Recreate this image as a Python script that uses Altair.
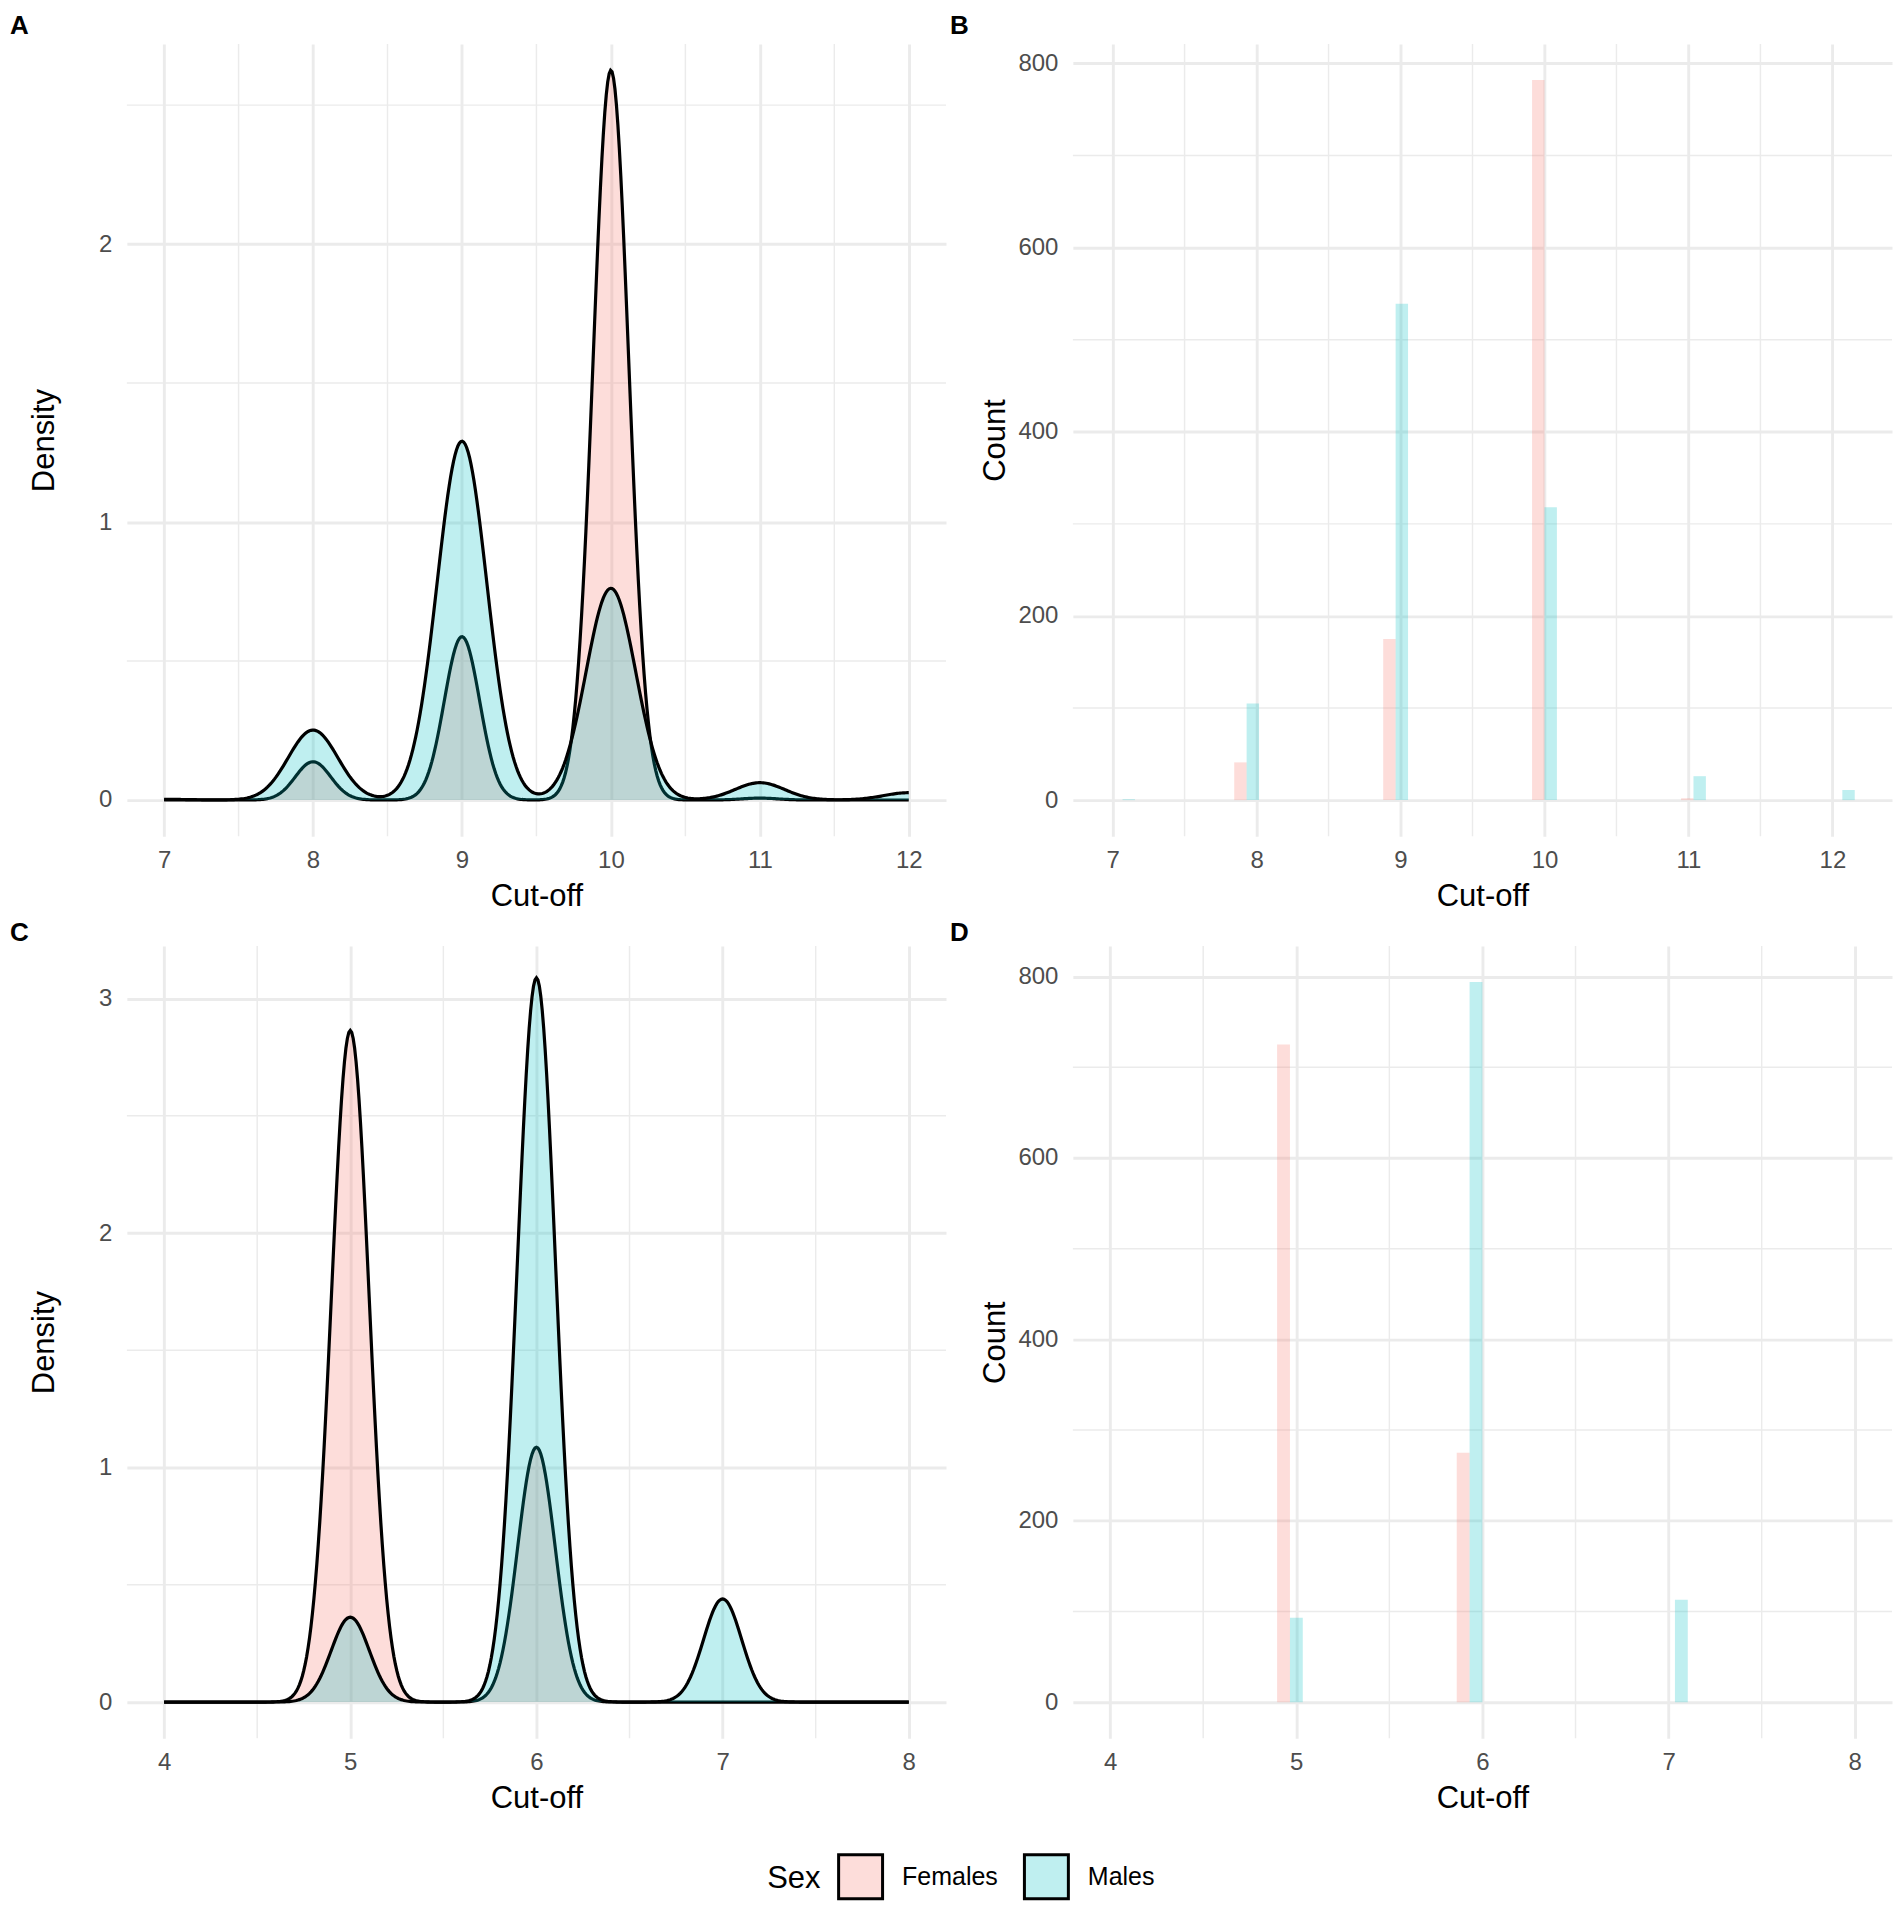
import altair as alt
import numpy as np
import pandas as pd

alt.data_transformers.disable_max_rows()

# ---------------- data ----------------
SEX = ["Females", "Males"]
SEX_FILL = ["rgba(248,118,109,0.25)", "rgba(0,191,196,0.25)"]

# Panels A (density) and B (histogram)
AB_CUTOFF = [7, 8, 9, 10, 11, 12]
AB_FEMALES = [0, 41, 175, 782, 2, 0]
AB_MALES = [1, 105, 539, 318, 26, 11]
AB_BIN_MID = [7.069, 7.931, 8.966, 10.0, 11.035, 12.069]
AB_BIN_WIDTH = 0.1724

# Panels C (density) and D (histogram)
CD_CUTOFF = [5, 6, 7]
CD_FEMALES = [725, 275, 0]
CD_MALES = [93, 794, 113]
CD_BIN_MID = [4.966, 5.931, 7.034]
CD_BIN_WIDTH = 0.1379

# axis ticks
AB_XTICKS = [7, 8, 9, 10, 11, 12]
AB_XMINOR = [7.5, 8.5, 9.5, 10.5, 11.5]
CD_XTICKS = [4, 5, 6, 7, 8]
CD_XMINOR = [4.5, 5.5, 6.5, 7.5]
A_YTICKS = [0, 1, 2]
A_YMINOR = [0.5, 1.5, 2.5]
C_YTICKS = [0, 1, 2, 3]
C_YMINOR = [0.5, 1.5, 2.5]
COUNT_YTICKS = [0, 200, 400, 600, 800]
COUNT_YMINOR = [100, 300, 500, 700]

FONT = "Liberation Sans"
GRID = "#EBEBEB"
W, H = 820, 793


def observations(cutoffs, females, males):
    return pd.DataFrame({
        "Sex": np.repeat(SEX, [sum(females), sum(males)]),
        "value": np.concatenate([np.repeat(cutoffs, females),
                                 np.repeat(cutoffs, males)]).astype(float),
    })


def bins(mids, females, males):
    return pd.DataFrame({
        "Sex": [SEX[0]] * len(mids) + [SEX[1]] * len(mids),
        "mid": list(mids) * 2,
        "count": list(females) + list(males),
    })


def bw_nrd0(x):
    x = np.asarray(x, float)
    hi = x.std(ddof=1)
    q75, q25 = np.percentile(x, [75, 25])
    lo = min(hi, (q75 - q25) / 1.34)
    if lo <= 0:
        lo = hi
    return 0.9 * lo * len(x) ** -0.2


CSCALE = alt.Scale(domain=SEX, range=SEX_FILL)
LEGEND = alt.Legend(
    title="Sex", orient="none", legendX=641, legendY=1811,
    direction="horizontal", titleOrient="left", titleAnchor="middle",
    titleBaseline="middle",
    titleFontSize=31, titleFontWeight="normal", titleColor="black",
    titleFont=FONT, titlePadding=16,
    labelFontSize=25, labelColor="black", labelFont=FONT, labelOffset=18,
    columnPadding=20, symbolType="square", symbolSize=1936,
    symbolStrokeColor="black", symbolStrokeWidth=3, padding=0,
)


def axis_x(ticks):
    return alt.Axis(values=ticks, title="Cut-off", grid=True, gridColor=GRID,
                    gridWidth=2.9, domain=False, ticks=False, labelPadding=12,
                    labelFontSize=24, labelColor="#4D4D4D", labelFont=FONT,
                    titleFontSize=31, titleFontWeight="normal",
                    titleColor="black", titleFont=FONT, titlePadding=9,
                    format="d", labelOverlap=False)


def axis_y(ticks, title, pad):
    return alt.Axis(values=ticks, title=title, grid=True, gridColor=GRID,
                    gridWidth=2.9, domain=False, ticks=False, labelPadding=15,
                    labelFontSize=24, labelColor="#4D4D4D", labelFont=FONT,
                    titleFontSize=31, titleFontWeight="normal",
                    titleColor="black", titleFont=FONT, titlePadding=pad,
                    format="d", labelOverlap=False)


def minor_rules(vals, channel, scale, axis):
    df = pd.DataFrame({"v": vals})
    if channel == "x":
        enc = {"x": alt.X("v:Q", scale=scale, axis=axis)}
    else:
        enc = {"y": alt.Y("v:Q", scale=scale, axis=axis)}
    return alt.Chart(df).mark_rule(color=GRID, strokeWidth=1.45).encode(**enc)


def tag_title(tag, dx, off):
    return alt.TitleParams(tag, anchor="start", frame="group", dx=dx,
                           offset=off, fontSize=26, fontWeight="bold",
                           baseline="alphabetic", font=FONT, color="black")


def density_panel(obs, extent, xdom, ydom, xticks, xminor, yticks, yminor,
                  tag, tag_dx, tag_off):
    xs = alt.Scale(domain=xdom, nice=False, zero=False)
    ys = alt.Scale(domain=ydom, nice=False, zero=False)
    ax = axis_x(xticks)
    ay = axis_y(yticks, "Density", 38)
    layers = [minor_rules(xminor, "x", xs, ax), minor_rules(yminor, "y", ys, ay)]
    for sex in SEX:
        bw = float(bw_nrd0(obs.loc[obs.Sex == sex, "value"]))
        base = alt.Chart(obs).transform_filter(alt.datum.Sex == sex).transform_density(
            "value", as_=["value", "density"], bandwidth=bw, extent=extent,
            steps=512, groupby=["Sex"])
        enc = dict(
            x=alt.X("value:Q", scale=xs, axis=ax),
            y=alt.Y("density:Q", scale=ys, axis=ay, stack=None),
        )
        layers.append(base.mark_area().encode(
            y2=alt.datum(0),
            color=alt.Color("Sex:N", scale=CSCALE, legend=LEGEND), **enc))
        layers.append(base.mark_line(color="black", strokeWidth=3.2).encode(**enc))
    return alt.layer(*layers).properties(width=W, height=H,
                                         title=tag_title(tag, tag_dx, tag_off))


def hist_panel(df, width, xdom, ydom, xticks, xminor, yticks, yminor,
               tag, tag_dx, tag_off):
    xs = alt.Scale(domain=xdom, nice=False, zero=False)
    ys = alt.Scale(domain=ydom, nice=False, zero=False)
    ax = axis_x(xticks)
    ay = axis_y(yticks, "Count", 6)
    half = width / 2
    bars = alt.Chart(df).transform_calculate(
        x0=f"datum.Sex === 'Females' ? datum.mid - {half} : datum.mid",
        x1=f"datum.Sex === 'Females' ? datum.mid : datum.mid + {half}",
    ).mark_rect().encode(
        x=alt.X("x0:Q", scale=xs, axis=ax),
        x2="x1:Q",
        y=alt.Y("count:Q", scale=ys, axis=ay),
        y2=alt.datum(0),
        color=alt.Color("Sex:N", scale=CSCALE, legend=LEGEND),
    )
    layers = [minor_rules(xminor, "x", xs, ax), minor_rules(yminor, "y", ys, ay), bars]
    return alt.layer(*layers).properties(width=W, height=H,
                                         title=tag_title(tag, tag_dx, tag_off))


obs_ab = observations(AB_CUTOFF, AB_FEMALES, AB_MALES)
obs_cd = observations(CD_CUTOFF, CD_FEMALES, CD_MALES)

panel_a = density_panel(obs_ab, [7, 12], [6.75, 12.25], [-0.13, 2.72],
                        AB_XTICKS, AB_XMINOR, A_YTICKS, A_YMINOR, "A", -117, -17)
panel_b = hist_panel(bins(AB_BIN_MID, AB_FEMALES, AB_MALES), AB_BIN_WIDTH,
                     [6.724, 12.414], [-39.1, 821.1], AB_XTICKS, AB_XMINOR,
                     COUNT_YTICKS, COUNT_YMINOR, "B", -123, -17)
panel_c = density_panel(obs_cd, [4, 8], [3.8, 8.2], [-0.154, 3.224],
                        CD_XTICKS, CD_XMINOR, C_YTICKS, C_YMINOR, "C", -117, -22)
panel_d = hist_panel(bins(CD_BIN_MID, CD_FEMALES, CD_MALES), CD_BIN_WIDTH,
                     [3.8, 8.2], [-39.7, 833.7], CD_XTICKS, CD_XMINOR,
                     COUNT_YTICKS, COUNT_YMINOR, "D", -123, -22)

chart = alt.concat(
    panel_a, panel_b, panel_c, panel_d, columns=2,
    spacing={"row": 110, "column": 127}, bounds="flush",
).properties(
    padding={"left": 2, "top": 4, "right": 0, "bottom": 0},
).configure(font=FONT).configure_view(strokeWidth=0)

chart.save("out.html", embed_options={"renderer": "svg", "actions": False})
